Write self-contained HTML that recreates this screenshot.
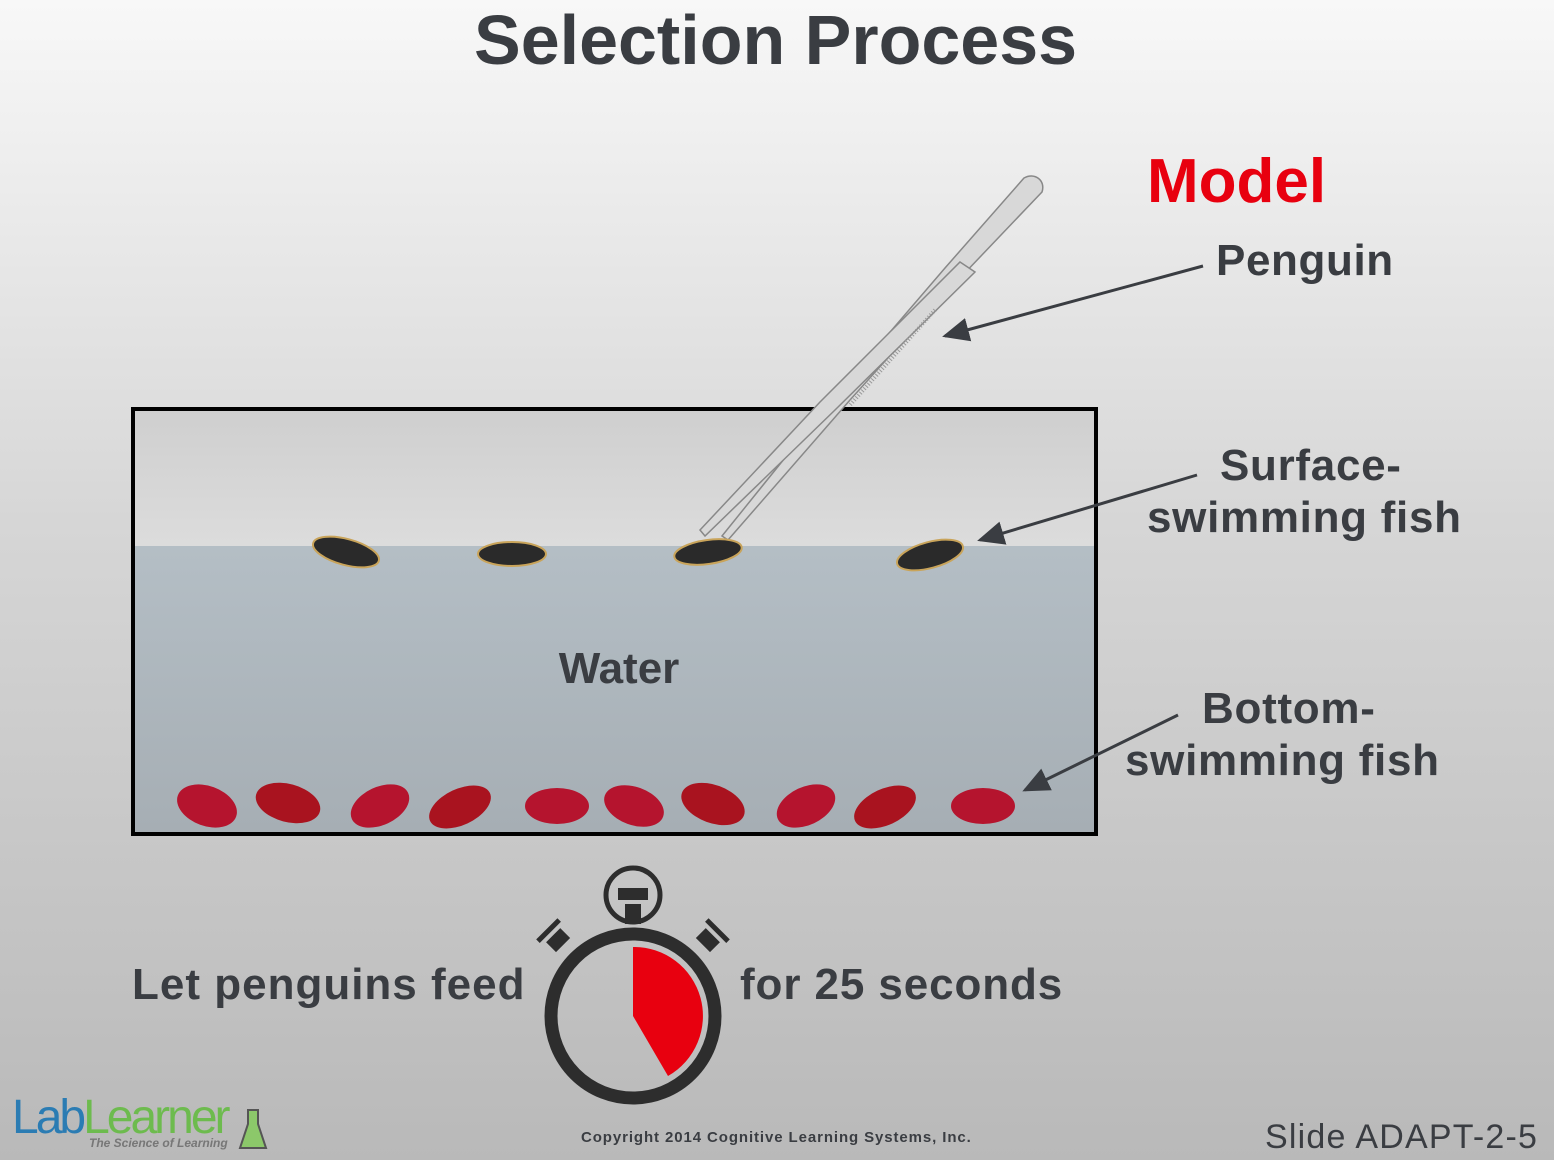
<!DOCTYPE html><html><head><style>
body{margin:0;width:1554px;height:1160px;overflow:hidden;background:linear-gradient(#f8f8f8,#d6d6d6 45%,#b9b9b9);font-family:"Liberation Sans",sans-serif;position:relative}
.t{position:absolute;font-weight:bold;color:#3a3d42;white-space:nowrap}
</style></head><body>
<div class="t" style="left:474px;top:0px;font-size:70px">Selection Process</div>
<div class="t" style="left:1147px;top:146px;font-size:62px;color:#e8000f">Model</div>
<div class="t" style="left:1216px;top:236px;font-size:44px;letter-spacing:0.6px">Penguin</div>
<div class="t" style="left:1147px;top:440px;font-size:44px;line-height:52px;text-align:center;letter-spacing:0.7px">&nbsp;Surface-<br>swimming fish</div>
<div class="t" style="left:1125px;top:683px;font-size:44px;line-height:52px;text-align:center;letter-spacing:0.7px">&nbsp;Bottom-<br>swimming fish</div>
<div class="t" style="left:132px;top:960px;font-size:44px;letter-spacing:1px">Let penguins feed</div>
<div class="t" style="left:740px;top:960px;font-size:44px;letter-spacing:0.9px">for 25 seconds</div>
<div class="t" style="left:581px;top:1129px;font-size:15px;letter-spacing:0.9px">Copyright 2014 Cognitive Learning Systems, Inc.</div>
<div style="position:absolute;left:1265px;top:1118px;font-size:34px;color:#3a3d42;letter-spacing:1.2px">Slide ADAPT-2-5</div>
<div style="position:absolute;left:12px;top:1090px;font-size:48px;letter-spacing:-3px"><span style="color:#2b7cb3">Lab</span><span style="color:#6dbb4e">Learner</span></div>
<div style="position:absolute;left:89px;top:1136px;font-size:12px;font-style:italic;font-weight:bold;color:#777">The Science of Learning</div>
<svg style="position:absolute;left:0;top:0" width="1554" height="1160">
<defs><linearGradient id="w" x1="0" y1="0" x2="0" y2="1"><stop offset="0" stop-color="#b4bec5"/><stop offset="1" stop-color="#a6aeb4"/></linearGradient>
<linearGradient id="a" x1="0" y1="0" x2="0" y2="1"><stop offset="0" stop-color="#cfcfcf"/><stop offset="1" stop-color="#dcdcdc"/></linearGradient>
<marker id="m" markerWidth="10" markerHeight="10" refX="8" refY="5" orient="auto"><path d="M0,1 L9,5 L0,9 z" fill="#3a3d42"/></marker></defs>
<rect x="134" y="410" width="961" height="136" fill="url(#a)"/>
<rect x="134" y="546" width="961" height="287" fill="url(#w)"/>
<rect x="133" y="409" width="963" height="425" fill="none" stroke="#000" stroke-width="4"/>
<text x="619" y="683" text-anchor="middle" font-size="44" font-weight="bold" fill="#3a3d42" font-family="Liberation Sans">Water</text>
<g stroke="#3a3d42" stroke-width="3" marker-end="url(#m)">
<line x1="1203" y1="266" x2="945" y2="336"/><line x1="1197" y1="475" x2="980" y2="540"/><line x1="1178" y1="715" x2="1025" y2="790"/></g>
<g fill="#d8d8d8" stroke="#888" stroke-width="1.5">
<path d="M1024,178 C1034,172 1046,180 1042,192 L960,278 L850,400 L728,540 L722,536 L830,402 L945,268 Z"/>
<path d="M960,262 L975,272 L835,410 L705,536 L700,530 L820,402 Z"/></g>
<line x1="935" y1="310" x2="850" y2="405" stroke="#999" stroke-width="4" stroke-dasharray="1 2"/>
<g fill="#2a2a2a" stroke="#c9a45a" stroke-width="2">
<ellipse cx="346" cy="552" rx="34" ry="13" transform="rotate(15 346 552)"/>
<ellipse cx="512" cy="554" rx="34" ry="12"/>
<ellipse cx="708" cy="552" rx="34" ry="12" transform="rotate(-8 708 552)"/>
<ellipse cx="930" cy="555" rx="34" ry="13" transform="rotate(-15 930 555)"/></g>
<g fill="#b5142e">
<ellipse cx="207" cy="806" rx="31" ry="20" transform="rotate(20 207 806)"/>
<ellipse cx="288" cy="803" rx="33" ry="19" transform="rotate(15 288 803)" fill="#a9131f"/>
<ellipse cx="380" cy="806" rx="31" ry="19" transform="rotate(-25 380 806)"/>
<ellipse cx="460" cy="807" rx="33" ry="18" transform="rotate(-25 460 807)" fill="#a9131f"/>
<ellipse cx="557" cy="806" rx="32" ry="18"/>
<ellipse cx="634" cy="806" rx="31" ry="19" transform="rotate(20 634 806)"/>
<ellipse cx="713" cy="804" rx="33" ry="19" transform="rotate(20 713 804)" fill="#a9131f"/>
<ellipse cx="806" cy="806" rx="31" ry="19" transform="rotate(-25 806 806)"/>
<ellipse cx="885" cy="807" rx="33" ry="18" transform="rotate(-25 885 807)" fill="#a9131f"/>
<ellipse cx="983" cy="806" rx="32" ry="18"/></g>
<g fill="#2d2d2d">
<circle cx="633" cy="1016" r="82" fill="none" stroke="#2d2d2d" stroke-width="13"/>
<circle cx="633" cy="895" r="27" fill="none" stroke="#2d2d2d" stroke-width="5"/>
<rect x="618" y="888" width="30" height="12"/><rect x="625" y="904" width="16" height="20"/>
<g transform="rotate(-45 556 938)"><rect x="546" y="934" width="20" height="14"/><rect x="541" y="925" width="30" height="5"/></g>
<g transform="rotate(45 710 938)"><rect x="700" y="934" width="20" height="14"/><rect x="695" y="925" width="30" height="5"/></g>
<path d="M633,1016 L633,947 A69,69 0 0 1 668,1076 Z" fill="#e8000f"/></g>
<path d="M248,1110 L248,1124 L240,1148 L266,1148 L258,1124 L258,1110 Z" fill="#8cc86a" stroke="#555" stroke-width="2"/>
</svg>
</body></html>
